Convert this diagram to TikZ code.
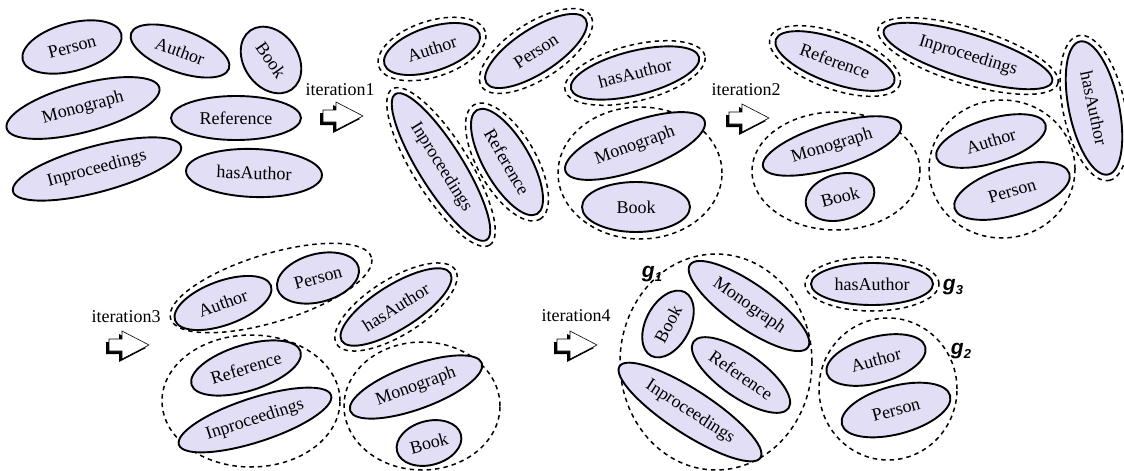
\documentclass[tikz,border=0pt]{standalone}
\usepackage{fontspec}
\setmainfont{Liberation Serif}
\newfontfamily\gsans{Liberation Sans}
\usetikzlibrary{shapes.geometric}
\definecolor{lav}{RGB}{225,222,245}
\tikzset{
  clsnode/.style={ellipse, draw=black, line width=1.9pt, fill=lav, inner sep=0pt,
    font=\fontsize{18}{20}\selectfont},
  grpnode/.style={ellipse, draw=black, line width=1.5pt, dash pattern=on 4.5pt off 4pt, inner sep=0pt},
  itlabel/.style={font=\fontsize{18}{20}\selectfont, inner sep=0pt},
  glabel/.style={font=\gsans\bfseries\itshape\fontsize{21}{22}\selectfont, inner sep=0pt},
  barrow/.pic={
    \fill[black, shift={(-3,3)}] (0,-6) -- (13,-6) -- (13,-14) -- (40,0) -- (13,14) -- (13,6) -- (0,6) -- cycle;
    \draw[fill=white, line width=0.6pt] (0,-6) -- (13,-6) -- (13,-14) -- (40,0) -- (13,14) -- (13,6) -- (0,6) -- cycle;
  }
}
\newcommand\Cl[6]{\node[clsnode, rotate=#3, minimum width=#4pt, minimum height=#5pt] (#1) at (#2) {#6};}
\newcommand\Gr[5]{\node[grpnode, rotate=#3, minimum width=#4pt, minimum height=#5pt] (#1) at (#2) {};}
\newcommand\Gx[5]{\node[grpnode, rotate=#3, minimum width=#4pt+12pt, minimum height=#5pt+12pt] (#1) at (#2) {};}
\newcommand\gsub[2]{#1\raisebox{-4pt}{\fontsize{13}{13}\selectfont #2}}
\begin{document}
\begin{tikzpicture}[x=1pt, y=-1pt]
\useasboundingbox (0,0) rectangle (1124,471);
% ---------- panel 1 ----------
\Cl{aperson}{72,47}{15}{102}{48}{Person}
\Cl{aauthor}{180,51}{-20}{104}{42}{Author}
\Cl{abook}{271,60}{-55}{72}{54}{Book}
\Cl{amono}{83,108}{15}{158}{48}{Monograph}
\Cl{aref}{236,118}{0}{130}{44}{Reference}
\Cl{ainpro}{97,169}{15}{174}{46}{Inproceedings}
\Cl{ahas}{254,173}{-2}{136}{48}{hasAuthor}
\node[itlabel] (it1) at (340,90) {iteration1};
\pic (ar1) at (323,116) {barrow};
% ---------- panel 2 ----------
\Gx{bauthorg}{432,49}{18}{100}{44}
\Cl{bauthor}{432,49}{18}{100}{44}{Author}
\Gx{bpersong}{536,51}{33}{118}{44}
\Cl{bperson}{536,51}{33}{118}{44}{Person}
\Gx{bhasg}{635,73}{14}{132}{44}
\Cl{bhas}{635,73}{14}{132}{44}{hasAuthor}
\Gx{binprog}{441,167}{-58}{172}{44}
\Cl{binpro}{441,167}{-58}{172}{44}{Inproceedings}
\Gx{brefg}{507,162}{-60}{120}{46}
\Cl{bref}{507,162}{-60}{120}{46}{Reference}
\Gr{bgrp}{640,173}{0}{164}{132}
\Cl{bmono}{635,146}{20}{148}{48}{Monograph}
\Cl{bbook}{636,207}{0}{108}{50}{Book}
\node[itlabel] (it2) at (746,90) {iteration2};
\pic (ar2) at (729,118) {barrow};
% ---------- panel 3 ----------
\Gx{crefg}{835,61}{-20}{126}{44}
\Cl{cref}{835,61}{-20}{126}{44}{Reference}
\Gx{cinprog}{968,56}{-17}{176}{44}
\Cl{cinpro}{968,56}{-17}{176}{44}{Inproceedings}
\Gx{chasg}{1094,108}{-78}{136}{50}
\Cl{chas}{1094,108}{-78}{136}{50}{hasAuthor}
\Gr{cgrpa}{836,171}{0}{168}{118}
\Cl{cmono}{832,146}{17}{144}{44}{Monograph}
\Cl{cbook}{840,197}{15}{70}{46}{Book}
\Gr{cgrpb}{1002,169}{0}{146}{138}
\Cl{cauthor}{991,141}{17}{114}{44}{Author}
\Cl{cperson}{1012,191}{17}{120}{48}{Person}
% ---------- panel 4 ----------
\node[itlabel] (it3) at (126,317) {iteration3};
\pic (ar3) at (109,345) {barrow};
\Gr{dgrpa}{271,288}{17}{210}{68}
\Cl{dauthor}{223,303}{20}{102}{44}{Author}
\Cl{dperson}{318,278}{15}{84}{48}{Person}
\Gx{dhasg}{396,307}{32}{128}{44}
\Cl{dhas}{396,307}{32}{128}{44}{hasAuthor}
\Gr{dgrpb}{251,401}{0}{178}{132}
\Cl{dref}{246,368}{17}{114}{46}{Reference}
\Cl{dinpro}{255,420}{18}{160}{44}{Inproceedings}
\Gr{dgrpc}{422,406}{0}{156}{128}
\Cl{dmono}{416,387}{20}{140}{44}{Monograph}
\Cl{dbook}{429,443}{15}{66}{44}{Book}
% ---------- panel 5 ----------
\node[itlabel] (it4) at (576,316) {iteration4};
\pic (ar4) at (557,345) {barrow};
\Gr{egrpa}{716,362}{0}{192}{216}
\Cl{emono}{749,306}{-35}{144}{44}{Monograph}
\Cl{ebook}{668,324}{62}{72}{44}{Book}
\Cl{eref}{741,375}{-35}{116}{44}{Reference}
\Cl{einpro}{690,412}{-33}{168}{44}{Inproceedings}
\Gx{ehasg}{872,284}{0}{122}{42}
\Cl{ehas}{872,284}{0}{122}{42}{hasAuthor}
\Gr{egrpb}{888,389}{0}{138}{142}
\Cl{eauthor}{876,360}{15}{102}{46}{Author}
\Cl{eperson}{896,410}{15}{112}{48}{Person}
\node[glabel] (g1) at (652,274) {\gsub{g}{1}};
\node[glabel] (g3) at (953,287) {\gsub{g}{3}};
\node[glabel] (g2) at (961,351) {\gsub{g}{2}};
\end{tikzpicture}
\end{document}
